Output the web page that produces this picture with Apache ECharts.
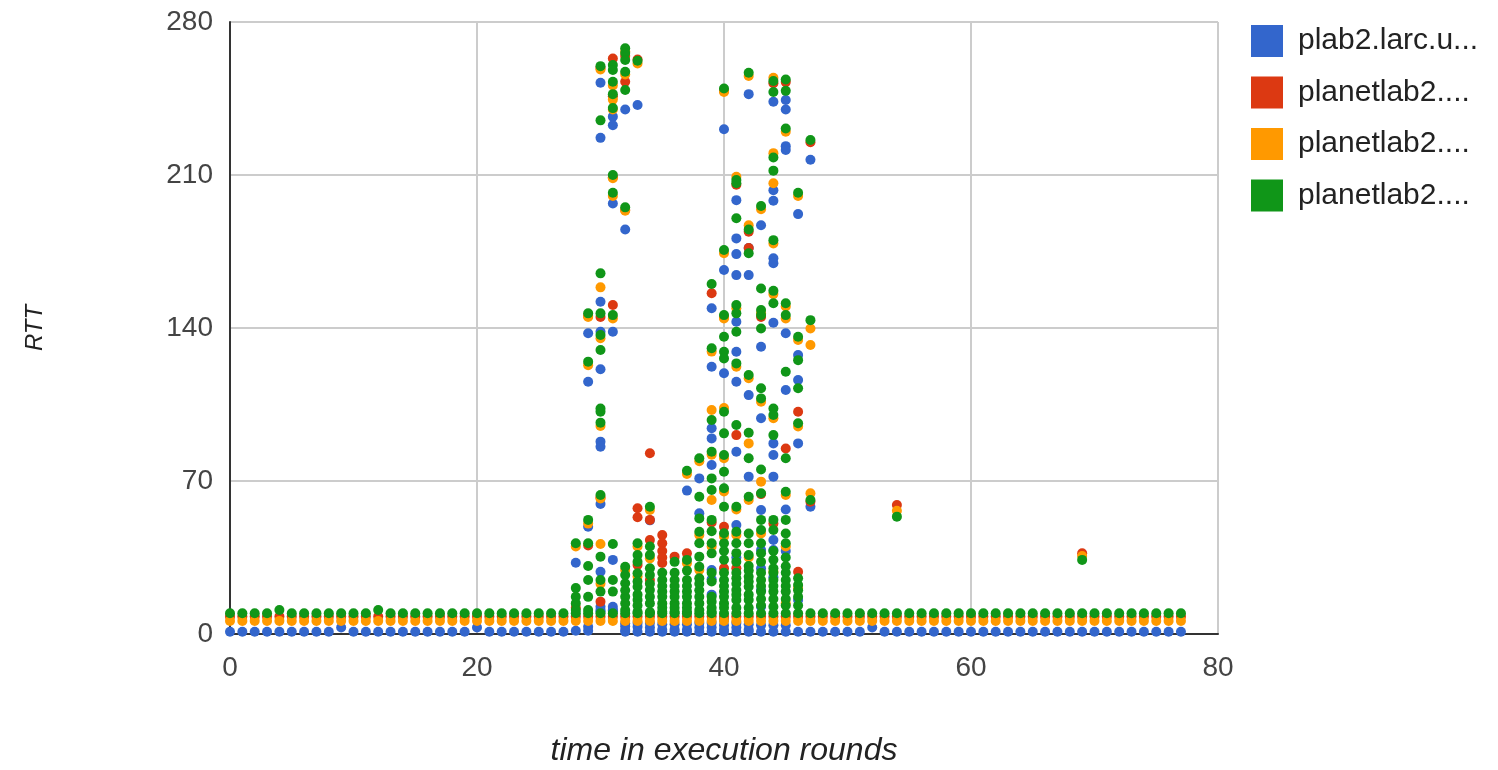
<!DOCTYPE html>
<html>
<head>
<meta charset="utf-8">
<script src="https://cdn.jsdelivr.net/npm/echarts@6/dist/echarts.min.js"></script>
<style>
  html, body { margin: 0; padding: 0; background: #fff; }
  #scatterChart { width: 1498px; height: 770px; }
</style>
</head>
<body>
<div id="scatterChart"></div>
<script>
// series names as shown (truncated) in the legend
const seriesNames = ['plab2.larc.u...', 'planetlab2....', 'planetlab2....', 'planetlab2....'];
const seriesColors = ['#3366cc', '#dc3912', '#ff9900', '#109618'];

// quiet rounds: one value per round 0..77
const blueBase = [1,1,1,1,1,1,1,1,1,3, 1,1,1,1,1,1,1,1,1,1, 3,1,1,1,1,1,1,1,1.5,1.5,
    11,11,1,1,1,1,1,1,1,1, 1,1,1,1,1,1,1,1,1,1, 1,1,3,1,1,1,1,1,1,1,
    1,1,1,1,1,1,1,1,1,1, 1,1,1,1,1,1,1,1];
const redBase = [8,8,8,8,8,8,8,8,8,8, 8,8,8,8,8,8,8,8,8,8, 8,8,8,8,8,8,8,8,8,8,
    8,8,8,8,8,8,8,8,8,8, 8,8,8,8,8,8,8,8,8,8, 8,8,8,8,8,8,8,8,8,8,
    8,8,8,8,8,8,8,8,8,8, 8,8,8,8,8,8,8,8];
const orangeBase = [6,6,6,6,6,6,6,6,6,6, 6,6,6,6,6,6,6,6,6,6, 6,6,6,6,6,6,6,6,6,6,
    6,6,6,6,6,6,6,6,6,6, 6,6,6,6,6,6,6,6,6,6, 6,6,6,6,6,6,6,6,6,6,
    6,6,6,6,6,6,6,6,6,6, 6,6,6,6,6,6,6,6];
const greenBase = [9.5,9.5,9.5,9.5,11,9.5,9.5,9.5,9.5,9.5, 9.5,9.5,11,9.5,9.5,9.5,9.5,9.5,9.5,9.5,
    9.5,9.5,9.5,9.5,9.5,9.5,9.5,9.5,9.5,9.5, 9.5,9.5,9.5,9.5,9.5,9.5,9.5,9.5,9.5,9.5,
    9.5,9.5,9.5,9.5,9.5,9.5,9.5,9.5,9.5,9.5, 9.5,9.5,9.5,9.5,9.5,9.5,9.5,9.5,9.5,9.5,
    9.5,9.5,9.5,9.5,9.5,9.5,9.5,9.5,9.5,9.5, 9.5,9.5,9.5,9.5,9.5,9.5,9.5,9.5];

// busy rounds: [round, RTT]
const blueBurst = [
    [28,32.6],
    [29,137.6],[29,115.4],[29,49.1],[29,3.3],
    [30,252.2],[30,227],[30,152],[30,138.3],[30,121.1],[30,88],[30,85.7],[30,59.5],[30,28.5],[30,12.5],[30,10.2],
    [31,236.7],[31,232.8],[31,197],[31,138.3],[31,33.9],[31,12.5],[31,10.5],
    [32,240],[32,185.1],[32,4.9],[32,1.8],
    [33,242],[33,3.3],[34,52],[34,3],[35,2],[36,2],[37,65.6],[37,2],
    [38,71.2],[38,55.2],[38,3],
    [39,149],[39,122.3],[39,94.1],[39,89.5],[39,77.3],[39,29.3],[39,25],[39,3],
    [40,230.9],[40,166.5],[40,119.3],[40,6.4],[40,2],
    [41,198.5],[41,181],[41,173.8],[41,164.2],[41,142.9],[41,129.1],[41,115.4],[41,83.4],[41,49.9],[41,5],
    [42,247],[42,176.6],[42,164.2],[42,109.3],[42,72],[42,2],
    [43,187],[43,131.4],[43,98.7],[43,56.7],[43,38.4],[43,30],[43,12.5],
    [44,243.5],[44,203],[44,198.2],[44,171.9],[44,169.6],[44,142.4],[44,87.2],[44,81.9],[44,72],[44,43],[44,38.4],
    [45,244.3],[45,240],[45,223.2],[45,221.4],[45,137.6],[45,111.6],[45,57],[45,38],
    [46,192.1],[46,127.6],[46,116.2],[46,87.2],[46,15.6],
    [47,217],[47,58.2]
];
const blueBurstLow = [
    [32,3.5],[33,5],[34,5],[35,4.5],[36,4.5],[37,4.5],[38,5],[39,5],[40,4],
    [41,3],[42,4.5],[43,4],[44,4],[45,4],[43,20],[44,26],[39,18],[41,35]
];
const redBurst = [
    [28,12],[29,145.5],[29,40.5],
    [30,259],[30,145],[30,62.5],[30,14.8],
    [31,263.3],[31,150.5],[31,246],[31,209],
    [32,252.7],[32,264.5],[32,194],
    [33,262.8],[33,57.5],[33,53.4],[33,31.6],
    [34,82.7],[34,52.2],[34,43],[34,24.7],
    [35,45.3],[35,41.5],[35,38],[35,35],[35,32.5],
    [36,35.4],[37,36.9],
    [39,155.9],[39,51],
    [40,248.6],[40,49.1],[40,30.1],[40,145],
    [41,91],[41,30.1],[41,205.5],
    [42,184],[42,176.6],
    [43,145],[43,64],
    [44,252],[44,50.5],
    [45,84.9],[45,252.5],
    [46,101.7],[46,28.5],
    [47,225],[47,60.5],
    [54,59],[69,36.9]
];
const orangeBurst = [
    [28,40],[29,145],[29,123],[29,50.5],
    [30,258.3],[30,158.6],[30,135.3],[30,95.2],[30,62],[30,41.2],[30,23],
    [31,251],[31,240],[31,244.5],[31,208.5],[31,200.4],[31,144.4],
    [32,266.5],[32,256],[32,193.7],[32,29.3],
    [33,261],[33,40],[33,26.3],
    [34,34.6],[34,56.7],
    [37,73.2],[37,32.4],
    [38,79],[38,45.3],[38,29.3],
    [39,102.5],[39,61.3],[39,129.2],[39,82],[39,40],
    [40,248],[40,174.2],[40,144.4],[40,103.4],[40,80.4],[40,65.2],[40,44.6],
    [41,209.2],[41,149],[41,122.3],[41,57],[41,45.3],
    [42,187],[42,87.2],[42,255.3],[42,117],[42,61.3],[42,35],
    [43,69.7],[43,194.3],[43,146.7],[43,106.3],[43,46],
    [44,206.2],[44,220],[44,254.5],[44,178.7],[44,155.5],[44,98.7],[44,28.6],
    [45,14],[45,229.8],[45,149.8],[45,144.4],[45,63.6],[45,40],
    [46,200.4],[46,134.5],[46,94.9],[46,21],
    [47,139.8],[47,132.2],[47,64.4],
    [54,56.4],[69,35.7]
];
const greenBurst = [
    [28,41.5],[28,21],[28,17],[28,14],[28,11],
    [29,146.7],[29,124.6],[29,52.2],[29,41.5],[29,31.1],[29,24.7],[29,17],[29,11],
    [30,259.8],[30,235],[30,165],[30,146.7],[30,136.8],[30,129.9],[30,103.2],[30,101.7],[30,96.7],[30,63.6],[30,35.4],[30,24.7],[30,19.4],
    [31,260.3],[31,258],[31,252.7],[31,247],[31,240.6],[31,210],[31,201.9],[31,145.9],[31,41.2],[31,24.7],[31,19.4],
    [32,268],[32,265.8],[32,262.6],[32,257.2],[32,248.9],[32,195.2],[32,30.8],[32,23.2],[32,17],[32,11],
    [33,262.3],[33,41.5],[33,36.1],[33,27.8],[33,21.6],[33,15.6],[33,10.2],
    [34,58.2],[34,36.1],[34,30.1],[34,20.1],[34,14],[34,10],
    [35,24.7],[35,19.4],[35,14],[35,10.2],
    [36,24.7],[36,19.4],[36,14],[36,10.2],
    [37,74.7],[37,33.9],[37,24.7],[37,19.4],[37,14],[37,10.2],
    [38,80.4],[38,62.8],[38,52.9],[38,46.8],[38,41.5],[38,35.4],[38,30.8],[38,25.5],[38,17],[38,11],
    [39,160.1],[39,130.7],[39,97.9],[39,83.4],[39,71.2],[39,65.9],[39,52.2],[39,41.5],[39,36.9],[39,14.8],[39,10.2],
    [40,249.6],[40,175.7],[40,145.9],[40,136],[40,129.1],[40,126.1],[40,101.7],[40,91.8],[40,81.9],[40,74.2],[40,66.7],[40,58.2],[40,46.1],[40,41.5],[40,24.7],[40,19.4],[40,14],
    [41,207.7],[41,206.2],[41,190.2],[41,150.5],[41,146.7],[41,138.3],[41,123.8],[41,95.6],[41,58.2],[41,46.8],[41,41.5],[41,25.5],[41,20.1],[41,15.6],
    [42,256.8],[42,185.1],[42,174.2],[42,118.5],[42,92.1],[42,80.4],[42,62.8],[42,41.5],[42,36.1],[42,31.1],[42,26.2],[42,21.6],[42,15.6],
    [43,195.8],[43,158.1],[43,148.2],[43,145.9],[43,139.8],[43,112.4],[43,107.8],[43,75.3],[43,64.4],[43,52.2],[43,47.6],[43,41.5],[43,24.7],[43,19.4],
    [44,253],[44,248],[44,218],[44,212],[44,180.2],[44,157],[44,151.3],[44,103.2],[44,100.2],[44,91],[44,52.2],[44,47.6],[44,30.1],[44,24.7],[44,19.4],[44,12.5],
    [45,253.7],[45,248.5],[45,231.3],[45,151.3],[45,145.9],[45,120],[45,80.4],[45,65.1],[45,52.2],[45,41.5],[45,31],[45,24.7],[45,19.4],
    [46,201.9],[46,136],[46,125.3],[46,112.4],[46,96.4],[46,25.5],[46,22.4],
    [47,226],[47,143.6],[47,61.3],
    [54,53.7],[69,33.9]
];
// extra low-RTT samples in the dense band
const greenBurstLow = [
    [32,14],[32,20],[32,27],
    [33,13],[33,18],[33,24],[33,33],
    [34,17],[34,23],[34,27],[34,40],
    [35,12],[35,17],[35,22],[35,28],
    [36,12],[36,17],[36,22],[36,28],[36,33],
    [37,12],[37,17],[37,22],[37,29],
    [38,14],[38,20],[38,23],
    [39,12],[39,17],[39,24],[39,28],[39,47],
    [40,12],[40,17],[40,22],[40,28],[40,34],[40,38],
    [41,12],[41,18],[41,23],[41,28],[41,33],[41,37],
    [42,12],[42,18],[42,24],[42,29],[42,46],
    [43,13],[43,16],[43,22],[43,28],[43,33],[43,37],
    [44,16],[44,22],[44,28],[44,34],[44,38],
    [45,13],[45,16],[45,22],[45,28],[45,35],[45,46],
    [46,13],[46,17],[46,20]
];

const xTicks = { min: 0, max: 80, interval: 20 };
const yTicks = { min: 0, max: 280, interval: 70 };

const baseSets = [blueBase, redBase, orangeBase, greenBase];
const burstSets = [blueBurst.concat(blueBurstLow), redBurst, orangeBurst, greenBurst.concat(greenBurstLow)];

const fontFamily = 'Liberation Sans, Arial, sans-serif';
const labelStyle = { color: '#444', fontSize: 28, fontFamily: fontFamily };

const chartOption = {
    animation: false,
    legend: {
        orient: 'vertical',
        left: 1246,
        top: 20,
        itemWidth: 32,
        itemHeight: 32,
        itemGap: 19.5,
        icon: 'rect',
        textStyle: { color: '#222', fontSize: 30, fontFamily: fontFamily, padding: [0, 0, 0, 10] },
        data: seriesNames.map((n, i) => ({ name: n + '\u200b'.repeat(i) }))
    },
    grid: { left: 230, right: 280, top: 22, bottom: 136, outerBoundsMode: 'none', containLabel: false },
    xAxis: {
        type: 'value',
        min: xTicks.min, max: xTicks.max, interval: xTicks.interval,
        name: 'time in execution rounds',
        nameLocation: 'middle',
        nameGap: 101,
        nameTextStyle: { color: '#222', fontSize: 32, fontStyle: 'italic', fontFamily: fontFamily },
        axisLine: { show: true, onZero: false, lineStyle: { color: '#333', width: 2 } },
        axisTick: { show: false },
        axisLabel: Object.assign({ margin: 20 }, labelStyle),
        splitLine: { show: true, lineStyle: { color: '#ccc', width: 2 } }
    },
    yAxis: {
        type: 'value',
        min: yTicks.min, max: yTicks.max, interval: yTicks.interval,
        name: 'RTT',
        nameLocation: 'middle',
        nameGap: 183,
        nameRotate: 90,
        nameTextStyle: { color: '#222', fontSize: 24, fontStyle: 'italic', fontFamily: fontFamily },
        axisLine: { show: true, onZero: false, lineStyle: { color: '#333', width: 2 } },
        axisTick: { show: false },
        axisLabel: Object.assign({ margin: 17 }, labelStyle),
        splitLine: { show: true, lineStyle: { color: '#ccc', width: 2 } }
    },
    series: seriesNames.map((n, i) => ({
        name: n + '\u200b'.repeat(i),
        type: 'scatter',
        symbolSize: 10,
        itemStyle: { color: seriesColors[i], opacity: 1 },
        data: baseSets[i].map((y, x) => [x, y]).concat(burstSets[i])
    }))
};

const chartEl = document.getElementById('scatterChart');
const myChart = echarts.init(chartEl);
myChart.setOption(chartOption);
</script>
</body>
</html>
